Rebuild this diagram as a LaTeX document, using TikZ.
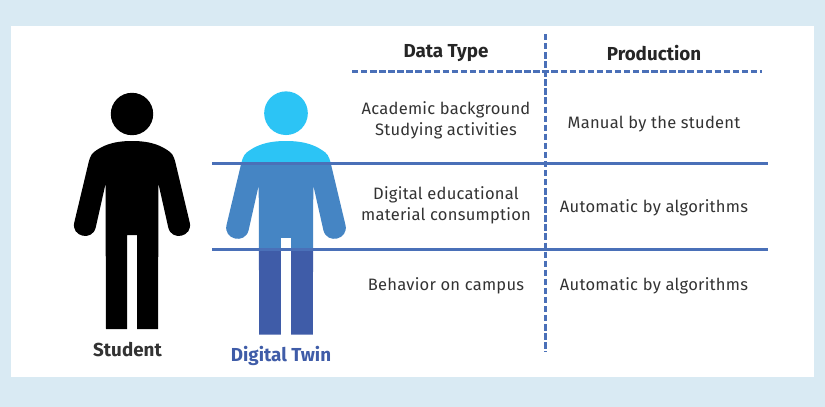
\documentclass[tikz,border=0pt]{standalone}
\usepackage{fontspec}
\setmainfont{Fira Sans}
\usetikzlibrary{positioning}
\definecolor{panelblue}{HTML}{D9EAF3}
\definecolor{ruleblue}{HTML}{4A70B8}
\definecolor{twintop}{HTML}{2CC4F5}
\definecolor{twinmid}{HTML}{4585C4}
\definecolor{twinlow}{HTML}{3F5CA8}
\definecolor{inkgray}{HTML}{333333}
\newcommand{\personbody}{(0,0) .. controls (-20,0) and (-30,5) .. (-38,11)
    .. controls (-42,14) and (-43,20) .. (-44,24) -- (-57.7,81.4)
    .. controls (-61.2,95.6) and (-39.8,100.8) .. (-36.3,86.6) -- (-26.5,43)
    -- (-26,188) -- (-5,188) -- (-5,94) -- (5,94) -- (5,188) -- (26,188) -- (26.5,43)
    -- (36.3,86.6) .. controls (39.8,100.8) and (61.2,95.6) .. (57.7,81.4) -- (44,24)
    .. controls (43,20) and (42,14) .. (38,11) .. controls (30,5) and (20,0) .. (0,0) -- cycle}
\begin{document}
\begin{tikzpicture}[x=0.75pt,y=-0.75pt,
        cell/.style = {align=center,text=inkgray,font=\fontsize{12.4}{15.8}\selectfont\addfontfeature{LetterSpace=1.5}},
        head/.style = {text=black!85,font=\fontsize{14.1}{15}\selectfont\bfseries},
        band/.style = {line width=2.1pt,ruleblue},
        grid/.style = {line width=1.8pt,ruleblue,dash pattern=on 4.8pt off 2pt}
        ]

        %Panel
        \fill[panelblue] (0,0) rectangle (825,407);
        \fill[white] (11,26) rectangle (814,377);

        %Student
        \begin{scope}[shift={(132,141)}]
            \fill (0,-27) circle[radius=15.9pt];
            \fill \personbody;
        \end{scope}

        %Digital Twin
        \begin{scope}[shift={(286,141)},scale=1.03]
            \fill[twintop] (0,-27) circle[radius=15.9pt];
            \begin{scope}
                \clip \personbody;
                \fill[twintop] (-70,-5) rectangle (70,22.3);
                \fill[twinmid] (-70,22.3) rectangle (70,106);
                \fill[twinlow] (-70,106) rectangle (70,195);
            \end{scope}
        \end{scope}

        %Rules
        \coordinate (rowa) at (212,163.8);
        \coordinate (rowb) at (212,249.8);
        \draw[band] (rowa) -- ++(556,0);
        \draw[band] (rowb) -- ++(556,0);
        \coordinate (top) at (545.3,34);
        \coordinate (headl) at (352,71.5);
        \draw[grid] (top) -- ++(0,318);
        \draw[grid] (headl) -- ++(410,0);

        %Labels
        \node[head,text=inkgray] (student) at (127.5,350) {Student};
        \node[head,text=twinlow] (twin) at (281,356) {Digital Twin};

        %Table
        \node[head] (type) at (446,53.5) {Data Type};
        \node[head] (prod) at (654,53.5) {Production};
        \node[cell] (acad) at (446,120.5) {Academic background\\Studying activities};
        \node[cell] (manual) at (654,124.5) {Manual by the student};
        \node[cell] (edu) at (446,205.5) {Digital educational\\material consumption};
        \node[cell] (autoa) at (654,207.5) {Automatic by algorithms};
        \node[cell] (campus) at (446,285.5) {Behavior on campus};
        \node[cell] (autob) at (654,285.5) {Automatic by algorithms};

\end{tikzpicture}
\end{document}
